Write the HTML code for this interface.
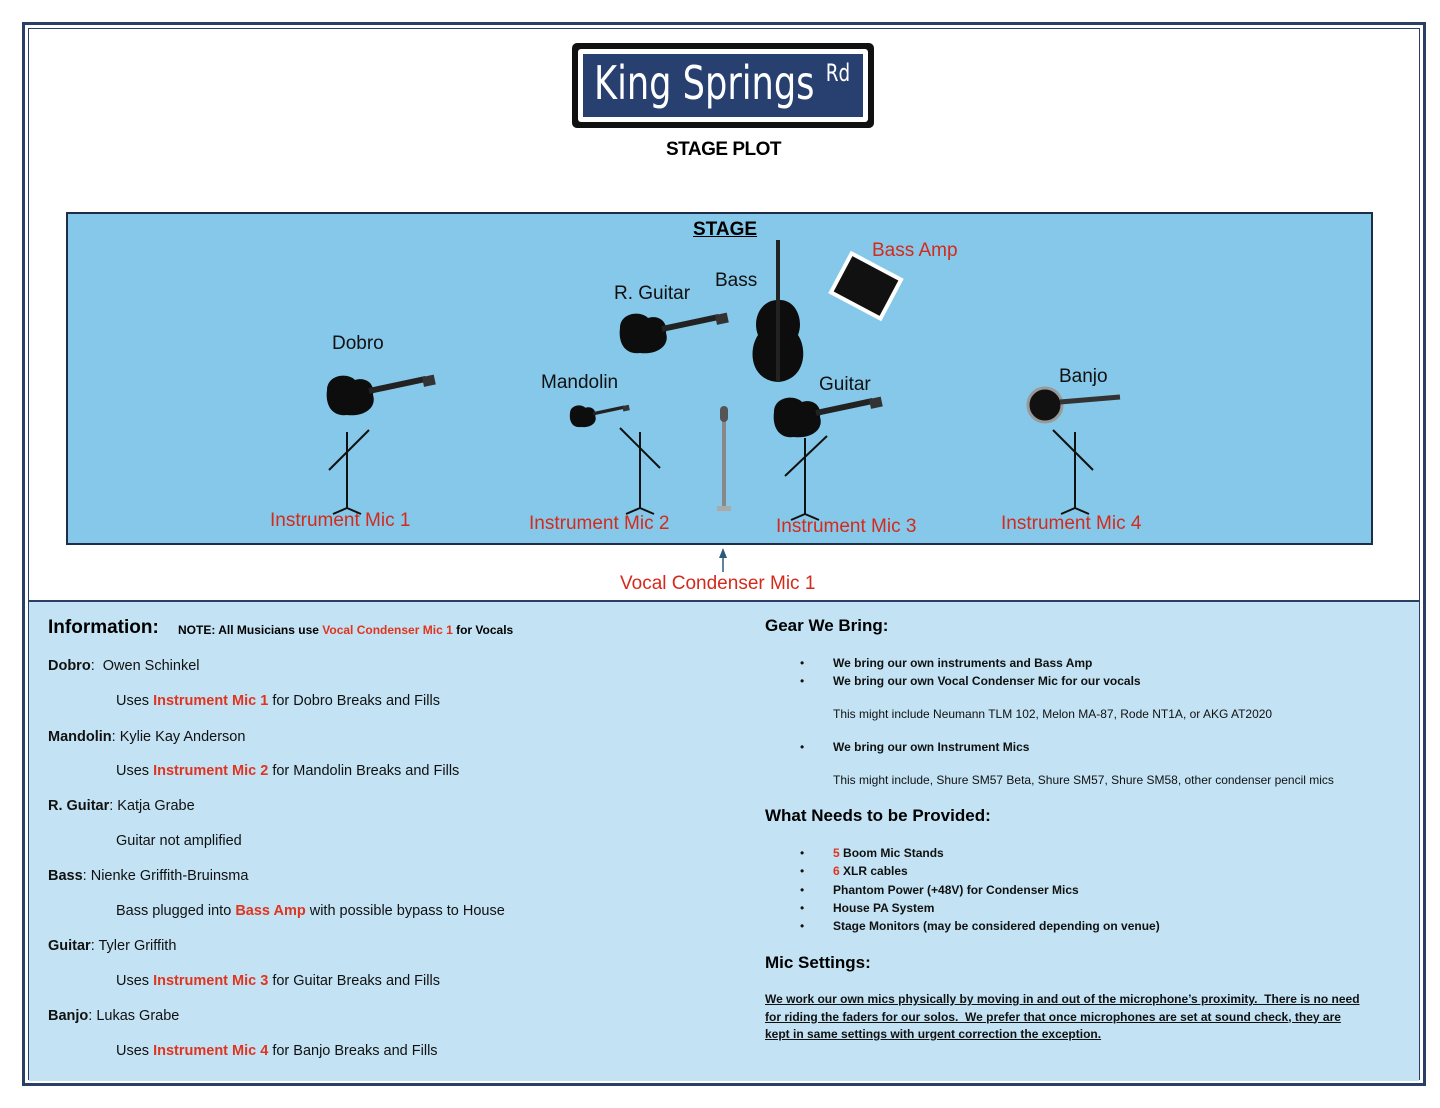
<!DOCTYPE html>
<html><head><meta charset="utf-8"><style>
body{margin:0;width:1440px;height:1108px;background:#fff;position:relative;overflow:hidden;font-family:"Liberation Sans",sans-serif}
.a{position:absolute;white-space:nowrap}
.lbl{font-size:19px;color:#111}
.mic{font-size:19px;color:#d42a1c}
.r{color:#e0341f;font-weight:bold}
.info{font-size:14.5px;color:#111}
.g{font-size:12px;color:#111}
.b{position:absolute;left:800px}
.bt{position:absolute;left:833px;font-weight:bold}
</style></head><body>
<div class="a" style="left:22px;top:22px;width:1398px;height:1058px;border:3px solid #2b3e63;"></div>
<div class="a" style="left:28px;top:28px;width:1392px;height:1052px;border:1px solid #2b3e63;box-sizing:border-box"></div>
<div class="a" style="left:29px;top:600px;width:1390px;height:479px;background:#c3e3f4;border-top:2px solid #2b3e63"></div>

<div class="a" style="left:572px;top:43px;width:302px;height:85px;background:#111;border-radius:5px"></div>
<div class="a" style="left:578px;top:49px;width:290px;height:73px;background:#fff;border-radius:3px"></div>
<div class="a" style="left:583px;top:54px;width:280px;height:63px;background:#27406f"></div>
<div class="a" style="left:594px;top:56px;font-size:46px;color:#fff;font-family:'DejaVu Sans Condensed','DejaVu Sans',sans-serif;transform:scaleX(0.85);transform-origin:left">King Springs <span style="font-size:24px;vertical-align:18px">Rd</span></div>
<div class="a" style="left:666px;top:139px;font-size:19px;font-weight:900;letter-spacing:-0.5px">STAGE PLOT</div>

<div class="a" style="left:66px;top:212px;width:1307px;height:333px;background:#85c8e9;border:2px solid #1e2e48;box-sizing:border-box"></div>
<div class="a" style="left:693px;top:219px;font-size:19px;font-weight:bold;text-decoration:underline">STAGE</div>

<div class="a lbl" style="left:332px;top:333px">Dobro</div>
<div class="a lbl" style="left:614px;top:283px">R. Guitar</div>
<div class="a lbl" style="left:715px;top:270px">Bass</div>
<div class="a lbl" style="left:541px;top:372px">Mandolin</div>
<div class="a lbl" style="left:819px;top:374px">Guitar</div>
<div class="a lbl" style="left:1059px;top:366px">Banjo</div>
<div class="a mic" style="left:872px;top:240px">Bass Amp</div>
<div class="a mic" style="left:270px;top:510px">Instrument Mic 1</div>
<div class="a mic" style="left:529px;top:513px">Instrument Mic 2</div>
<div class="a mic" style="left:776px;top:516px">Instrument Mic 3</div>
<div class="a mic" style="left:1001px;top:513px">Instrument Mic 4</div>
<div class="a mic" style="left:620px;top:573px">Vocal Condenser Mic 1</div>

<svg class="a" style="left:0;top:0" width="1440" height="600">
<defs>
<g id="gt"><path d="M0 15 C0 0 20 -3 28 5 C36 2 48 6 46 20 C50 32 38 42 20 40 C5 42 -2 30 0 15Z" fill="#0d0d0d"/><rect x="42" y="13" width="58" height="6" fill="#222" transform="rotate(-12 42 16)"/><rect x="96" y="2" width="12" height="10" fill="#333" transform="rotate(-12 96 7)"/></g>
<g id="st" stroke="#111" stroke-width="2" fill="none"><line x1="0" y1="0" x2="0" y2="76"/><line x1="0" y1="76" x2="-14" y2="82"/><line x1="0" y1="76" x2="14" y2="82"/></g>
</defs>
<use href="#gt" x="327" y="375"/>
<use href="#gt" x="620" y="313"/>
<use href="#gt" x="774" y="397"/>
<g transform="translate(570 405) scale(0.55)"><use href="#gt"/></g>
<circle cx="1045" cy="405" r="17" fill="#111" stroke="#999" stroke-width="3"/>
<line x1="1060" y1="402" x2="1120" y2="397" stroke="#333" stroke-width="5"/>
<path d="M778 240 L778 300 C760 300 752 320 758 335 C748 350 750 380 778 382 C805 380 808 350 798 335 C804 320 796 300 780 300" fill="#0d0d0d"/>
<rect x="776" y="240" width="4" height="142" fill="#222"/>
<g transform="rotate(28 866 286)"><rect x="836" y="262" width="60" height="48" fill="#fff"/><rect x="840" y="266" width="52" height="40" fill="#111"/></g>
<g transform="translate(347 432)"><use href="#st"/><line x1="-18" y1="38" x2="22" y2="-2" stroke="#111" stroke-width="2"/></g>
<g transform="translate(640 432)"><use href="#st"/><line x1="-20" y1="-4" x2="20" y2="36" stroke="#111" stroke-width="2"/></g>
<g transform="translate(805 438)"><use href="#st"/><line x1="-20" y1="38" x2="22" y2="-2" stroke="#111" stroke-width="2"/></g>
<g transform="translate(1075 432)"><use href="#st"/><line x1="-22" y1="-2" x2="18" y2="38" stroke="#111" stroke-width="2"/></g>
<rect x="722" y="420" width="4" height="88" fill="#888"/>
<rect x="720" y="406" width="8" height="16" rx="4" fill="#555"/>
<rect x="717" y="506" width="14" height="5" fill="#aaa"/>
<line x1="723" y1="572" x2="723" y2="555" stroke="#2b5a7a" stroke-width="1.5"/>
<path d="M719 558 L723 548 L727 558Z" fill="#2b5a7a"/>
</svg>

<div class="a" style="left:48px;top:617px;font-size:19px;font-weight:bold">Information:</div>
<div class="a" style="left:178px;top:623px;font-size:12px;font-weight:bold">NOTE: All Musicians use <span style="color:#e0341f">Vocal Condenser Mic 1</span> for Vocals</div>
<div class="a info" style="left:48px;top:658px"><b>Dobro</b>:&nbsp; Owen Schinkel</div>
<div class="a info" style="left:116px;top:693px">Uses <span class="r">Instrument Mic 1</span> for Dobro Breaks and Fills</div>
<div class="a info" style="left:48px;top:729px"><b>Mandolin</b>: Kylie Kay Anderson</div>
<div class="a info" style="left:116px;top:763px">Uses <span class="r">Instrument Mic 2</span> for Mandolin Breaks and Fills</div>
<div class="a info" style="left:48px;top:798px"><b>R. Guitar</b>: Katja Grabe</div>
<div class="a info" style="left:116px;top:833px">Guitar not amplified</div>
<div class="a info" style="left:48px;top:868px"><b>Bass</b>: Nienke Griffith-Bruinsma</div>
<div class="a info" style="left:116px;top:903px">Bass plugged into <span class="r">Bass Amp</span> with possible bypass to House</div>
<div class="a info" style="left:48px;top:938px"><b>Guitar</b>: Tyler Griffith</div>
<div class="a info" style="left:116px;top:973px">Uses <span class="r">Instrument Mic 3</span> for Guitar Breaks and Fills</div>
<div class="a info" style="left:48px;top:1008px"><b>Banjo</b>: Lukas Grabe</div>
<div class="a info" style="left:116px;top:1043px">Uses <span class="r">Instrument Mic 4</span> for Banjo Breaks and Fills</div>

<div class="a" style="left:765px;top:616px;font-size:17px;font-weight:bold">Gear We Bring:</div>
<div class="g">
<span class="b" style="top:656px">•</span><span class="bt" style="top:656px">We bring our own instruments and Bass Amp</span>
<span class="b" style="top:674px">•</span><span class="bt" style="top:674px">We bring our own Vocal Condenser Mic for our vocals</span>
<span class="a" style="left:833px;top:707px">This might include Neumann TLM 102, Melon MA-87, Rode NT1A, or AKG AT2020</span>
<span class="b" style="top:740px">•</span><span class="bt" style="top:740px">We bring our own Instrument Mics</span>
<span class="a" style="left:833px;top:773px">This might include, Shure SM57 Beta, Shure SM57, Shure SM58, other condenser pencil mics</span>
</div>
<div class="a" style="left:765px;top:806px;font-size:17px;font-weight:bold">What Needs to be Provided:</div>
<div class="g">
<span class="b" style="top:846px">•</span><span class="bt" style="top:846px"><span style="color:#e0341f">5</span> Boom Mic Stands</span>
<span class="b" style="top:864px">•</span><span class="bt" style="top:864px"><span style="color:#e0341f">6</span> XLR cables</span>
<span class="b" style="top:883px">•</span><span class="bt" style="top:883px">Phantom Power (+48V) for Condenser Mics</span>
<span class="b" style="top:901px">•</span><span class="bt" style="top:901px">House PA System</span>
<span class="b" style="top:919px">•</span><span class="bt" style="top:919px">Stage Monitors (may be considered depending on venue)</span>
</div>
<div class="a" style="left:765px;top:953px;font-size:17px;font-weight:bold">Mic Settings:</div>
<div class="a g" style="left:765px;top:991px;font-weight:bold;text-decoration:underline;line-height:17.5px">We work our own mics physically by moving in and out of the microphone’s proximity.&nbsp; There is no need<br>for riding the faders for our solos.&nbsp; We prefer that once microphones are set at sound check, they are<br>kept in same settings with urgent correction the exception.</div>
</body></html>
